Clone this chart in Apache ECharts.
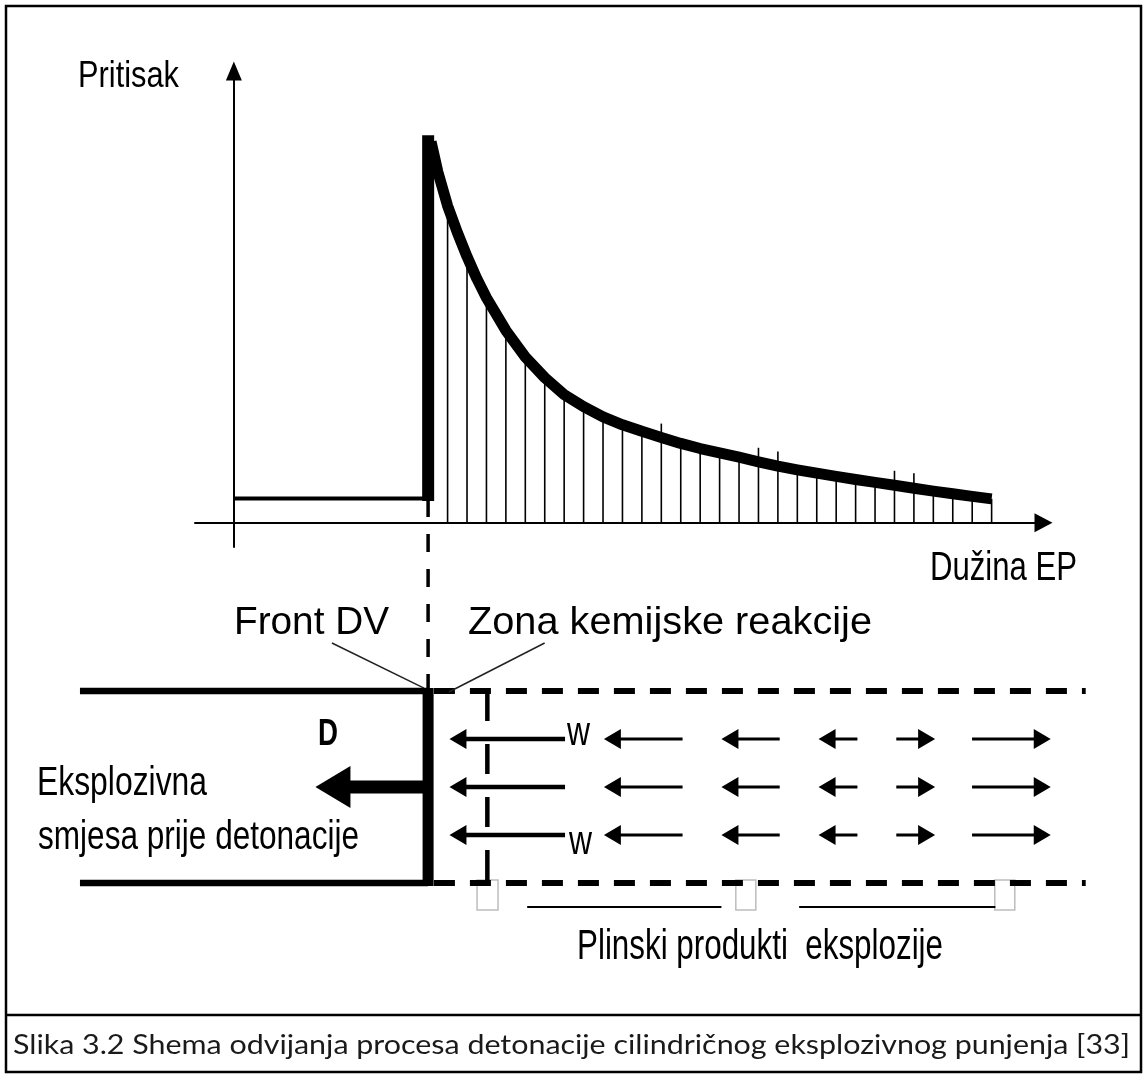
<!DOCTYPE html>
<html lang="hr">
<head>
<meta charset="UTF-8">
<title>Slika 3.2</title>
<script src="https://cdn.jsdelivr.net/npm/echarts@6.0.0/dist/echarts.min.js"></script>
<style>html,body{margin:0;padding:0;background:#fff;}</style>
</head>
<body>
<div id="main" style="width:1143px;height:1074px;"></div>
<script type="text/javascript">
// ---- gornji dio: profil pritiska (x = duzina, p = pritisak) ----
var restPressure = 1;          // pritisak ispred fronta
var frontX = 10;               // polozaj fronta detonacionog vala
var peakPressure = 16.02;      // vrh skoka pritiska
var curveX = [10.15, 10.5, 11, 11.5, 12, 12.5, 13, 14, 15, 16, 17, 18, 19, 20, 21, 22, 23, 24, 25,
              26, 27, 28, 29, 30, 31, 32, 33, 34, 35, 36, 37, 38, 39];
var curveP = [15.75, 14.5, 13.1, 12.0, 11.0, 10.1, 9.3, 7.95, 6.85, 6.0, 5.3, 4.8, 4.38, 4.05, 3.78, 3.53, 3.28, 3.07, 2.89,
              2.71, 2.52, 2.34, 2.19, 2.05, 1.92, 1.79, 1.67, 1.55, 1.43, 1.31, 1.20, 1.09, 0.99];
var hatchX = [11, 12, 13, 14, 15, 16, 17, 18, 19, 20, 21, 22, 23, 24, 25,
              26, 27, 28, 29, 30, 31, 32, 33, 34, 35, 36, 37, 38, 39];
var hatchTop = [13.1, 11.0, 9.3, 7.95, 6.85, 6.0, 5.3, 4.8, 4.38, 4.05, 3.78, 4.1, 3.28, 3.07, 2.89,
                2.71, 3.1, 2.95, 2.19, 2.05, 1.92, 1.79, 1.67, 2.15, 2.05, 1.31, 1.20, 1.09, 0.99];

// ---- donji dio: shema punjenja (x = ista duzina, y = polumjer cijevi) ----
var wallY = [1, -1];
var solidWall = [-7.92, 10];          // eksplozivna smjesa
var dashedWall = [10.3, 43.85];       // plinski produkti
var zoneX = 13.05;                    // kraj zone kemijske reakcije
var guideTop = 3.0;                   // isprekidana veza s grafom
var rowY = [0.5, 0, -0.5];
var flowArrows = [[17.05, 11.1], [23.1, 19.05], [28.1, 25.1], [32.1, 30.1], [34.1, 36.1], [38.0, 42.05]]; // [rep, vrh]
var detonationArrow = [9.75, 4.2, 0];
var leaders = [[5.05, 1.5, 9.79, 1.03], [16.0, 1.5, 11.07, 0.99]];
var productMarks = [[12.52, 13.6], [25.84, 26.87], [39.17, 40.2]];
var productSpans = [[15.1, 25.1], [29.1, 39.2]];
var markY = [-0.97, -1.28];
var spanY = -1.25;

var chart = echarts.init(document.getElementById('main'));

function segSeries(segs, style, z) {
    return {
        type: 'custom', xAxisIndex: 1, yAxisIndex: 1, silent: true, z: z || 2,
        data: segs,
        renderItem: function (params, api) {
            var a = api.coord([api.value(0), api.value(1)]);
            var b = api.coord([api.value(2), api.value(3)]);
            return {type: 'line', shape: {x1: a[0], y1: a[1], x2: b[0], y2: b[1]}, style: style};
        }
    };
}

var arrowStyles = [
    {shaft: 4.5, head: 17, half: 10},   // dugi w
    {shaft: 3, head: 17, half: 10},     // kratke strelice
    {shaft: 13, head: 35, half: 21}     // D
];
var arrowData = [];
rowY.forEach(function (y) {
    flowArrows.forEach(function (f, i) {
        arrowData.push([f[0], f[1], y, i === 0 ? 0 : 1]);
    });
});
arrowData.push([detonationArrow[0], detonationArrow[1], detonationArrow[2], 2]);

var walls = [], dashed = [];
wallY.forEach(function (y) {
    walls.push([solidWall[0], y, solidWall[1], y]);
    dashed.push([dashedWall[0], y, dashedWall[1], y]);
});

var option = {
    animation: false,
    backgroundColor: '#fff',
    grid: [
        {left: 195, top: 71, width: 848.5, height: 476},
        {left: 0.7, top: 499, width: 1142.5, height: 504}
    ],
    xAxis: [
        {
            gridIndex: 0, type: 'value', min: -2, max: 41.67,
            axisLine: {show: true, onZero: true, symbol: ['none', 'triangle'], symbolSize: [19, 18],
                lineStyle: {color: '#000', width: 2}},
            axisTick: {show: false}, axisLabel: {show: false}, splitLine: {show: false}
        },
        {gridIndex: 1, type: 'value', min: -12, max: 46.8, show: false}
    ],
    yAxis: [
        {
            gridIndex: 0, type: 'value', min: -1, max: 18.67,
            axisLine: {show: true, onZero: true, symbol: ['none', 'triangle'], symbolSize: [16, 19],
                lineStyle: {color: '#000', width: 2}},
            axisTick: {show: false}, axisLabel: {show: false}, splitLine: {show: false}
        },
        {gridIndex: 1, type: 'value', min: -2.25, max: 3, show: false}
    ],
    series: [
        { // pritisak ispred fronta
            type: 'line', xAxisIndex: 0, yAxisIndex: 0, symbol: 'none', silent: true,
            data: [[0, restPressure], [frontX, restPressure]],
            lineStyle: {color: '#000', width: 4}
        },
        { // skok pritiska na frontu
            type: 'line', xAxisIndex: 0, yAxisIndex: 0, symbol: 'none', silent: true, z: 4,
            data: [[frontX, restPressure - 0.1], [frontX, peakPressure]],
            lineStyle: {color: '#000', width: 12, cap: 'butt'}
        },
        { // srafura ispod krivulje
            type: 'custom', xAxisIndex: 0, yAxisIndex: 0, silent: true, z: 2,
            data: hatchX.map(function (x, i) { return [x, hatchTop[i]]; }),
            renderItem: function (params, api) {
                var a = api.coord([api.value(0), 0]);
                var b = api.coord([api.value(0), api.value(1)]);
                return {type: 'line', shape: {x1: a[0], y1: a[1], x2: b[0], y2: b[1]},
                    style: {stroke: '#000', lineWidth: 1.6}};
            }
        },
        { // pad pritiska iza fronta
            type: 'line', xAxisIndex: 0, yAxisIndex: 0, symbol: 'none', silent: true, z: 3,
            smooth: false,
            data: curveX.map(function (x, i) { return [x, curveP[i]]; }),
            lineStyle: {color: '#000', width: 11, cap: 'butt', join: 'round'}
        },
        segSeries([[frontX, guideTop, frontX, wallY[0]]], {stroke: '#000', lineWidth: 3.5, lineDash: [18, 17]}),
        segSeries(walls, {stroke: '#000', lineWidth: 6.5}),
        segSeries(dashed, {stroke: '#000', lineWidth: 6, lineDash: [21, 15]}),
        segSeries([[frontX, wallY[0] + 0.03, frontX, wallY[1] - 0.03]], {stroke: '#000', lineWidth: 11}, 4),
        segSeries([[zoneX, wallY[0], zoneX, wallY[1]]], {stroke: '#000', lineWidth: 4.5, lineDash: [30, 23]}),
        segSeries(leaders, {stroke: '#222', lineWidth: 1.5}),
        segSeries(productSpans.map(function (s) { return [s[0], spanY, s[1], spanY]; }), {stroke: '#000', lineWidth: 1.8}),
        { // male oznake ispod cijevi
            type: 'custom', xAxisIndex: 1, yAxisIndex: 1, silent: true, z: 1,
            data: productMarks,
            renderItem: function (params, api) {
                var a = api.coord([api.value(0), markY[0]]);
                var b = api.coord([api.value(1), markY[1]]);
                return {type: 'rect', shape: {x: a[0], y: a[1], width: b[0] - a[0], height: b[1] - a[1]},
                    style: {fill: 'none', stroke: '#bdbdbd', lineWidth: 1.5}};
            }
        },
        { // strelice
            type: 'custom', xAxisIndex: 1, yAxisIndex: 1, silent: true, z: 5,
            data: arrowData,
            renderItem: function (params, api) {
                var y = api.value(2);
                var a = api.coord([api.value(0), y]);
                var b = api.coord([api.value(1), y]);
                var st = arrowStyles[api.value(3)];
                var dir = b[0] > a[0] ? 1 : -1;
                var base = b[0] - dir * st.head;
                return {type: 'group', children: [
                    {type: 'line', shape: {x1: a[0], y1: a[1], x2: base + dir, y2: a[1]},
                        style: {stroke: '#000', lineWidth: st.shaft}},
                    {type: 'polygon', shape: {points: [[b[0], b[1]], [base, b[1] - st.half], [base, b[1] + st.half]]},
                        style: {fill: '#000'}}
                ]};
            }
        }
    ]
};

// ---- tekst ----
var labelFont = "'Liberation Sans', Arial, sans-serif";
var labels = [
    {t: 'Pritisak', x: 78, b: 90, cap: 26, w: 101},
    {t: 'Dužina EP', x: 1077, b: 583, cap: 29, w: 147, align: 'right'},
    {t: 'Front DV', x: 234, b: 637, cap: 28, w: 155},
    {t: 'Zona kemijske reakcije', x: 468, b: 637, cap: 28, w: 404},
    {t: 'D', x: 318, b: 748, cap: 26, w: 20, bold: true},
    {t: 'w', x: 567, b: 748, cap: 29, w: 23},
    {t: 'w', x: 569, b: 857, cap: 29, w: 23},
    {t: 'Eksplozivna', x: 37, b: 798, cap: 29, w: 170},
    {t: 'smjesa prije detonacije', x: 38, b: 852, cap: 29, w: 321},
    {t: 'Plinski produkti  eksplozije', x: 577, b: 962, cap: 30, w: 366}
];
var caption = {t: 'Slika 3.2 Shema odvijanja procesa detonacije cilindričnog eksplozivnog punjenja [33]',
    x: 13, b: 1055, size: 26, w: 1117, family: "Lato, 'Open Sans', sans-serif"};

var ctx = document.createElement('canvas').getContext('2d');
function makeText(l, size, family, color) {
    var weight = l.bold ? 'bold' : 'normal';
    ctx.font = weight + ' ' + size + 'px ' + family;
    var natural = ctx.measureText(l.t).width;
    return {
        type: 'text', x: l.x, y: l.b - 0.3465 * size, scaleX: l.w / natural, silent: true, z: 10,
        style: {text: l.t, fontSize: size, fontFamily: family, fontWeight: weight, fill: color,
            align: l.align || 'left', verticalAlign: 'middle'}
    };
}

var graphics = [
    {type: 'rect', shape: {x: 6, y: 6, width: 1135, height: 1066}, style: {fill: 'none', stroke: '#000', lineWidth: 2.5}, silent: true},
    {type: 'line', shape: {x1: 6, y1: 1015, x2: 1141, y2: 1015}, style: {stroke: '#000', lineWidth: 2.5}, silent: true}
];
labels.forEach(function (l) { graphics.push(makeText(l, l.cap / 0.716, labelFont, '#000')); });
graphics.push(makeText(caption, caption.size, caption.family, '#1a1a1a'));
option.graphic = graphics;

chart.setOption(option);
</script>
</body>
</html>
